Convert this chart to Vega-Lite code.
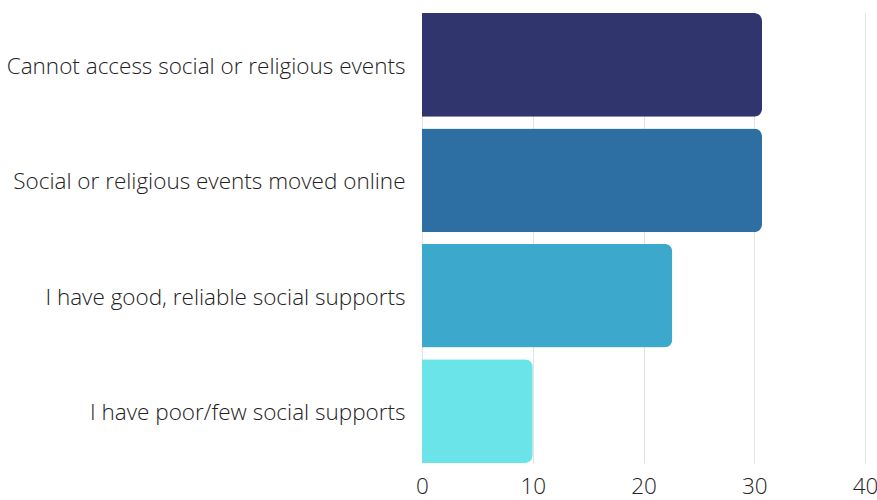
{
  "$schema": "https://vega.github.io/schema/vega-lite/v6.json",
  "autosize": "none",
  "width": 443,
  "height": 450,
  "padding": {"left": 422, "top": 13, "right": 12, "bottom": 37},
  "background": "white",
  "data": {
    "values": [
      {"category": "Cannot access social or religious events", "value": 30.7, "color": "c1"},
      {"category": "Social or religious events moved online", "value": 30.7, "color": "c2"},
      {"category": "I have good, reliable social supports", "value": 22.6, "color": "c3"},
      {"category": "I have poor/few social supports", "value": 10.0, "color": "c4"}
    ]
  },
  "mark": {"type": "bar", "cornerRadiusEnd": 8},
  "encoding": {
    "y": {
      "field": "category",
      "type": "nominal",
      "sort": null,
      "scale": {"paddingInner": 0.1, "paddingOuter": 0},
      "axis": {
        "title": null,
        "domain": false,
        "ticks": false,
        "labelFont": "Open Sans",
        "labelFontWeight": 300,
        "labelFontSize": 22.5,
        "labelColor": "#222222",
        "labelPadding": 17,
        "labelLimit": 420,
        "labelOffset": 2
      }
    },
    "x": {
      "field": "value",
      "type": "quantitative",
      "scale": {"domain": [0, 40], "nice": false},
      "axis": {
        "title": null,
        "values": [0, 10, 20, 30, 40],
        "domain": false,
        "ticks": false,
        "grid": true,
        "gridColor": "#e3e3e3",
        "labelFont": "Open Sans",
        "labelFontWeight": 300,
        "labelFontSize": 22.5,
        "labelColor": "#222222",
        "labelPadding": 12,
        "labelFlush": false
      }
    },
    "color": {
      "field": "color",
      "type": "nominal",
      "scale": {"domain": ["c1", "c2", "c3", "c4"], "range": ["#31356e", "#2d6fa3", "#3ba8cc", "#6ae4e8"]},
      "legend": null
    }
  },
  "config": {"view": {"stroke": null}}
}
